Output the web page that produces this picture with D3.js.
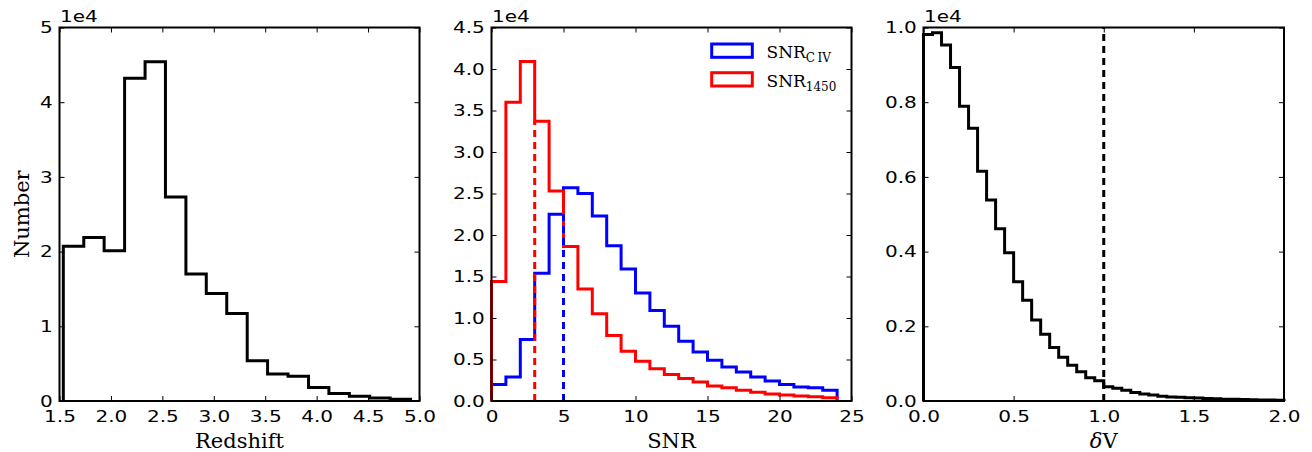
<!DOCTYPE html>
<html><head><meta charset="utf-8">
<script src="https://cdn.jsdelivr.net/npm/d3@7"></script>
<style>body{margin:0;background:#fff}svg{display:block}</style>
</head><body>
<svg id="c" width="1312" height="452"></svg>
<script>
// ---------- data ----------
const zEdges  = [1.537,1.736,1.934,2.133,2.332,2.530,2.729,2.927,3.126,3.325,3.523,3.722,3.921,4.119,4.318,4.516,4.715,4.913];
const zCounts = [20700,21900,20100,43200,45400,27300,17000,14400,11700,5400,3600,3300,1800,1000,650,400,250];

const snrEdges = [0,1,2,3,4,5,6,7,8,9,10,11,12,13,14,15,16,17,18,19,20,21,22,23,24];
const snrCIV   = [2000,2900,7400,15400,22500,25700,25000,22300,18700,15900,13000,10900,9000,7200,5900,4900,4100,3500,2900,2400,2000,1700,1600,1300];
const snr1450  = [14400,36000,40900,33700,25300,18600,13500,10500,7900,6000,4800,3900,3200,2700,2300,1800,1600,1300,1050,850,720,600,500,400];
const snrCuts  = [{x:3, y:33700, c:"#ff0000"}, {x:5, y:22500, c:"#0000ff"}];

const dvEdges  = [0,0.05,0.1,0.15,0.2,0.25,0.3,0.35,0.4,0.45,0.5,0.55,0.6,0.65,0.7,0.75,0.8,0.85,0.9,0.95,1.0,1.05,1.1,1.15,1.2,1.25,1.3,1.35,1.4,1.45,1.5,1.55,1.6,1.65,1.7,1.75,1.8,1.85,1.9,1.95,2.0];
const dvCounts = [9810,9860,9530,8930,7890,7300,6150,5380,4610,3970,3190,2700,2170,1790,1430,1170,960,780,620,540,380,340,290,230,190,160,130,110,100,90,80,70,60,50,45,40,35,30,25,20];
const dvCut    = 1.0;

const zXTicks   = [1.5,2.0,2.5,3.0,3.5,4.0,4.5,5.0];
const zYTicks   = [0,1,2,3,4,5];
const snrXTicks = [0,5,10,15,20,25];
const snrYTicks = [0,0.5,1.0,1.5,2.0,2.5,3.0,3.5,4.0,4.5];
const dvXTicks  = [0.0,0.5,1.0,1.5,2.0];
const dvYTicks  = [0.0,0.2,0.4,0.6,0.8,1.0];

// ---------- layout ----------
const svg = d3.select("#c");
const yTop = 27.5, yBot = 401;
const SX = 1.25; // horizontal stretch of tick-label text seen in the reference
const panels = [
  {x0:59.5,  x1:419.5,  xd:[1.5,5.0], yd:[0,5],   xt:zXTicks,   yt:zYTicks,   xf:d3.format(".1f"), yf:d3.format("d"),   xl:"Redshift"},
  {x0:491.5, x1:851.5,  xd:[0,25],    yd:[0,4.5], xt:snrXTicks, yt:snrYTicks, xf:d3.format("d"),   yf:d3.format(".1f"), xl:"SNR"},
  {x0:923.5, x1:1284,   xd:[0,2.0],   yd:[0,1.0], xt:dvXTicks,  yt:dvYTicks,  xf:d3.format(".1f"), yf:d3.format(".1f"), xl:"δV"}
];

function stepPoints(edges, vals){
  const pts = [[edges[0],0]];
  vals.forEach((v,i)=>{ pts.push([edges[i],v]); pts.push([edges[i+1],v]); });
  pts.push([edges[edges.length-1],0]);
  return pts;
}

const tickFont = "'DejaVu Sans', sans-serif";
const labFont = "'DejaVu Serif', serif";

panels.forEach((p,i)=>{
  p.x = d3.scaleLinear().domain(p.xd).range([p.x0,p.x1]);
  p.y = d3.scaleLinear().domain(p.yd).range([yBot,yTop]);
  p.yc = d3.scaleLinear().domain([p.yd[0]*1e4,p.yd[1]*1e4]).range([yBot,yTop]);
  const g = svg.append("g");
  p.g = g;
  p.marks = g.append("g");
  const ab = g.append("g").attr("transform",`translate(0,${yBot})`)
    .call(d3.axisBottom(p.x).tickValues(p.xt).tickFormat(p.xf).tickSize(-5).tickPadding(9.5));
  const at = g.append("g").attr("transform",`translate(0,${yTop})`)
    .call(d3.axisTop(p.x).tickValues(p.xt).tickFormat("").tickSize(-5));
  const al = g.append("g").attr("transform",`translate(${p.x0},0)`)
    .call(d3.axisLeft(p.y).tickValues(p.yt).tickFormat(p.yf).tickSize(-5).tickPadding(6.7/SX));
  const ar = g.append("g").attr("transform",`translate(${p.x1},0)`)
    .call(d3.axisRight(p.y).tickValues(p.yt).tickFormat("").tickSize(-5));
  [ab,at,al,ar].forEach(a=>{
    a.select(".domain").remove();
    a.selectAll(".tick line").attr("stroke","#000").attr("stroke-width",1);
    a.selectAll(".tick text").attr("font-family",tickFont).attr("font-size",16).attr("fill","#000")
      .attr("transform",`scale(${SX},1)`);
  });
  g.append("text").attr("transform",`translate(${p.x0+0.5},22) scale(${SX},1)`)
    .attr("font-family",tickFont).attr("font-size",16).text("1e4");
  const xl = g.append("text").attr("x",(p.x0+p.x1)/2).attr("y",448).attr("text-anchor","middle")
    .attr("font-family",labFont).attr("font-size",21);
  if(i===2){
    xl.append("tspan").attr("font-style","italic").text("δ");
    xl.append("tspan").text("V");
  } else xl.text(p.xl);
});

svg.append("text").attr("transform",`translate(29,${(yTop+yBot)/2}) rotate(-90)`)
  .attr("text-anchor","middle").attr("font-family",labFont).attr("font-size",21).text("Number");

const line = (p)=> d3.line().x(d=>p.x(d[0])).y(d=>p.yc(d[1]));

{
  const p = panels[0];
  p.marks.append("path").attr("d",line(p)(stepPoints(zEdges,zCounts)))
    .attr("fill","none").attr("stroke","#000").attr("stroke-width",3).attr("stroke-linejoin","miter");
}
{
  const p = panels[1];
  p.marks.append("path").attr("d",line(p)(stepPoints(snrEdges,snrCIV)))
    .attr("fill","none").attr("stroke","#0000ff").attr("stroke-width",3);
  p.marks.append("path").attr("d",line(p)(stepPoints(snrEdges,snr1450)))
    .attr("fill","none").attr("stroke","#ff0000").attr("stroke-width",3);
  snrCuts.forEach(c=>{
    p.marks.append("path").attr("d",line(p)([[c.x,0],[c.x,c.y]]))
      .attr("fill","none").attr("stroke",c.c).attr("stroke-width",3).attr("stroke-dasharray","7,5");
  });
  const leg = [{c:"#0000ff", sub:"C\u2009IV"},{c:"#ff0000", sub:"1450"}];
  leg.forEach((l,k)=>{
    const yy = 44 + k*28.7;
    p.g.append("rect").attr("x",711.7).attr("y",yy).attr("width",40.6).attr("height",13.3)
      .attr("fill","none").attr("stroke",l.c).attr("stroke-width",3);
    const t = p.g.append("text").attr("x",766.5).attr("y",yy+14.3).attr("font-family",labFont).attr("font-size",17);
    t.append("tspan").text("SNR");
    t.append("tspan").attr("font-size",12).attr("dy",3.5).text(l.sub);
  });
}
{
  const p = panels[2];
  p.marks.append("path").attr("d",line(p)(stepPoints(dvEdges,dvCounts)))
    .attr("fill","none").attr("stroke","#000").attr("stroke-width",3);
  p.marks.append("path").attr("d",line(p)([[dvCut,0],[dvCut,1e4]]))
    .attr("fill","none").attr("stroke","#000").attr("stroke-width",3).attr("stroke-dasharray","7,5");
}
panels.forEach(p=>{
  p.g.append("rect").attr("x",p.x0).attr("y",yTop).attr("width",p.x1-p.x0).attr("height",yBot-yTop)
    .attr("fill","none").attr("stroke","#000").attr("stroke-width",2);
});
</script>
</body></html>
